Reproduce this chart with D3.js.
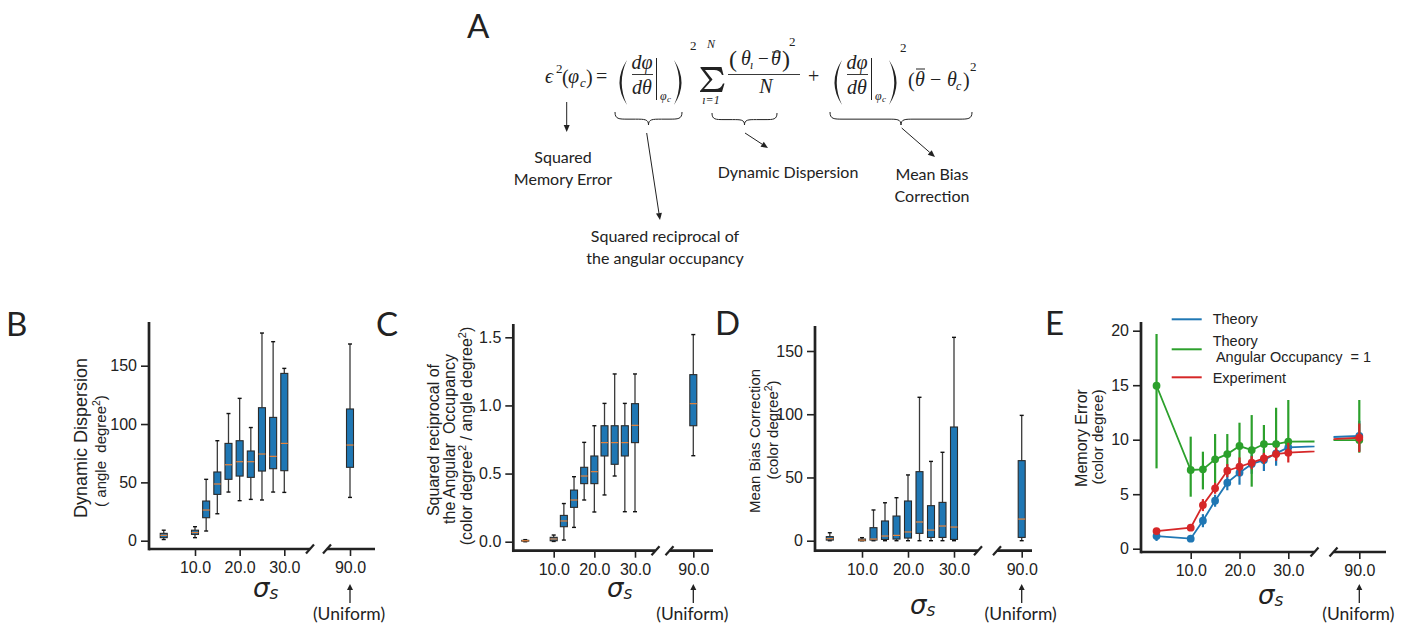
<!DOCTYPE html>
<html><head><meta charset="utf-8">
<script src="https://cdn.jsdelivr.net/npm/d3@7"></script>
<style>
html,body{margin:0;padding:0;background:#fff;}
svg{display:block;}
text{white-space:pre;}
</style></head>
<body>
<svg id="fig" width="1403" height="626"></svg>
<script>
// ================= DATA =================
const sigmaLevels = [3, 10, 12.5, 15, 17.5, 20, 22.5, 25, 27.5, 30, 90];
const xTickLeft = [10, 20, 30];
const xTickRight = [90];

// B: Dynamic dispersion (box stats)
const ddLow  = [1, 2.6, 8.3, 23.1, 41.7, 34.3, 35.4, 34.9, 41.7, 41.4, 37.1];
const ddQ1   = [2.6, 5.4, 19.7, 39.7, 52.6, 55.4, 54.3, 59.7, 61.7, 60, 62.9];
const ddMed  = [4.6, 7, 26.3, 48.6, 65.1, 67.7, 67.7, 74.3, 72.3, 83.4, 82];
const ddQ3   = [6.3, 9, 34, 58.9, 83.4, 85.7, 76.9, 114, 105.7, 143.4, 112.9];
const ddHigh = [9, 12, 52.6, 85.7, 109, 122, 97, 178, 170.6, 147.7, 168.6];
const ddTicks = [0, 50, 100, 150];

// C: Squared reciprocal of angular occupancy
const aoLow  = [0, 0.002, 0.012, 0.105, 0.306, 0.218, 0.343, 0.482, 0.22, 0.22, 0.631];
const aoQ1   = [0.005, 0.007, 0.11, 0.252, 0.426, 0.426, 0.629, 0.568, 0.629, 0.727, 0.851];
const aoMed  = [0.007, 0.02, 0.152, 0.306, 0.482, 0.514, 0.727, 0.727, 0.727, 0.854, 1.013];
const aoQ3   = [0.01, 0.032, 0.193, 0.379, 0.546, 0.629, 0.851, 0.851, 0.851, 1.013, 1.226];
const aoHigh = [0.015, 0.049, 0.28, 0.477, 0.729, 0.851, 1.015, 1.231, 1.015, 1.231, 1.52];
const aoTicks = [0, 0.5, 1.0, 1.5];

// D: Mean bias correction
const mbLow  = [0, 0, 0, 0, 0, 0, 0, 0, 0, 0, 0];
const mbQ1   = [0.5, 0, 0.5, 1, 1.3, 2.1, 5.8, 2.6, 2.6, 1, 2.6];
const mbMed  = [1.6, 0.5, 1.3, 3.7, 4.2, 6.9, 14.8, 8.4, 11.6, 10.8, 17.1];
const mbQ3   = [3.2, 1.3, 10.3, 15.6, 19.5, 31.4, 54.6, 27.7, 30.3, 89.9, 63.3];
const mbHigh = [6.3, 2.4, 24.3, 30, 34, 52, 113.4, 62.7, 69.9, 160.8, 99.1];
const mbTicks = [0, 50, 100, 150];

// E: Memory error
const theoryVal = [1.16, 0.92, 2.57, 4.4, 6.06, 6.97, 7.77, 8.13, 8.75, 9.3, 10.34];
const theoryErr = [0.45, 0.1, 0.6, 0.55, 0.7, 1.1, 0.9, 1.0, 1.15, 0.5, 1.4];
const aoOneVal  = [14.95, 7.22, 7.28, 8.2, 8.68, 9.42, 9.05, 9.6, 9.6, 9.82, 9.97];
const aoOneLow  = [7.37, 4.77, 5.44, 5.99, 6.76, 7.22, 5.69, 7.8, 8.2, 8.6, 8.8];
const aoOneHigh = [19.7, 10.28, 8.9, 10.52, 10.52, 11.56, 12.26, 11.35, 12.94, 13.64, 13.64];
const expVal    = [1.62, 1.93, 4.0, 5.54, 7.16, 7.52, 7.89, 8.29, 8.68, 8.81, 10.18];
const expErr    = [0.2, 0.2, 0.55, 0.5, 0.6, 0.85, 0.6, 0.5, 0.6, 0.9, 1.3];
const meTicks = [0, 5, 10, 15, 20];
const legendLabels = ["Theory", "Theory", " Angular Occupancy  = 1", "Experiment"];

// ================= DRAWING =================
const svg = d3.select("#fig");
svg.append("rect").attr("width",1403).attr("height",626).attr("fill","#fff");
const INK = "#222";
const SANS = "Liberation Sans, Arial, sans-serif";
const HUM = "Lato, Open Sans, sans-serif";
const SERIF = "Liberation Serif, DejaVu Serif, serif";

function txt(g, x, y, s, o = {}) {
  return g.append("text").attr("x", x).attr("y", y).text(s)
    .attr("font-family", o.ff || SANS).attr("font-size", o.fs || 16)
    .attr("font-style", o.it ? "italic" : "normal")
    .attr("text-anchor", o.anchor || "start").attr("fill", o.fill || INK);
}
function vtxt(g, x, y, s, fs, ff) {
  return g.append("text").attr("transform", `translate(${x},${y}) rotate(-90)`)
    .attr("text-anchor", "middle").attr("font-family", ff || SANS)
    .attr("font-size", fs).attr("fill", INK).text(s);
}
function arrow(g, x1, y1, x2, y2, w = 1, hl = 7, hw = 3) {
  const a = Math.atan2(y2 - y1, x2 - x1);
  const bx = x2 - hl * Math.cos(a), by = y2 - hl * Math.sin(a);
  g.append("line").attr("x1", x1).attr("y1", y1).attr("x2", bx).attr("y2", by)
    .attr("stroke", INK).attr("stroke-width", w);
  const px = -Math.sin(a) * hw, py = Math.cos(a) * hw;
  g.append("path").attr("d", `M${x2},${y2}L${bx + px},${by + py}L${bx - px},${by - py}Z`).attr("fill", INK);
}

function makePanel(p) {
  const g = svg.append("g");
  const y = d3.scaleLinear().domain(p.yDomain).range(p.yRange);
  const xL = d3.scaleLinear().domain([10, 30]).range(p.xLR);
  const slope = (p.xLR[1] - p.xLR[0]) / 20;
  const xR = d3.scaleLinear().domain([80, 100]).range([p.ux - 10 * slope, p.ux + 10 * slope]);
  const xOf = (s) => s > 50 ? xR(s) : xL(s);

  const ya = g.append("g").attr("transform", `translate(${p.axisX},0)`)
    .call(d3.axisLeft(y).tickValues(p.yTicks).tickFormat(p.yFmt).tickSize(8).tickPadding(4));
  const xa = g.append("g").attr("transform", `translate(0,${p.axisY})`)
    .call(d3.axisBottom(xL).tickValues(xTickLeft).tickFormat(d3.format(".1f")).tickSize(7).tickPadding(6));
  const xb = g.append("g").attr("transform", `translate(0,${p.axisY})`)
    .call(d3.axisBottom(xR).tickValues(xTickRight).tickFormat(d3.format(".1f")).tickSize(7).tickPadding(6));
  [ya, xa, xb].forEach(a => {
    a.select(".domain").remove();
    a.selectAll(".tick line").attr("stroke", INK).attr("stroke-width", 1.6);
    a.selectAll(".tick text").attr("font-family", SANS).attr("font-size", 16).attr("fill", INK);
  });
  const ax = g.append("g").attr("stroke", INK).attr("stroke-width", 2.7).attr("fill", "none");
  ax.append("line").attr("x1", p.axisX).attr("x2", p.axisX).attr("y1", p.axisTop).attr("y2", p.axisY + 1.35);
  ax.append("line").attr("x1", p.axisX).attr("x2", p.leftEnd).attr("y1", p.axisY).attr("y2", p.axisY);
  ax.append("line").attr("x1", p.rightStart).attr("x2", p.rightEnd).attr("y1", p.axisY).attr("y2", p.axisY);
  [p.leftEnd, p.rightStart].forEach(cx => {
    ax.append("line").attr("x1", cx - 4).attr("y1", p.axisY + 4.5).attr("x2", cx + 4).attr("y2", p.axisY - 4.5)
      .attr("stroke-width", 2.2);
  });
  // sigma_s label
  const sl = g.append("text").attr("x", p.sigX).attr("y", p.sigY).attr("font-family", "DejaVu Sans, sans-serif")
    .attr("font-style", "italic").attr("fill", INK);
  sl.append("tspan").attr("font-size", 26).text("σ");
  sl.append("tspan").attr("font-size", 17).attr("dy", 2).text("s");
  // uniform arrow + text
  arrow(g, p.ux, 603, p.ux, 584, 1.3, 6, 3);
  txt(g, p.ux - 1, 620, "(Uniform)", { ff: HUM, fs: 17.5, anchor: "middle" });
  // panel letter
  txt(g, p.letterX, p.letterY, p.letter, { ff: HUM, fs: 33 });
  return { g, y, xL, xR, xOf };
}

function drawBoxes(P, lo, q1, med, q3, hi) {
  const bw = 7, cw = 4;
  const gg = P.g.append("g");
  sigmaLevels.forEach((s, i) => {
    const cx = P.xOf(s);
    gg.append("line").attr("x1", cx).attr("x2", cx).attr("y1", P.y(q3[i])).attr("y2", P.y(hi[i]))
      .attr("stroke", "#3a3a3a").attr("stroke-width", 1.3);
    gg.append("line").attr("x1", cx).attr("x2", cx).attr("y1", P.y(q1[i])).attr("y2", P.y(lo[i]))
      .attr("stroke", "#3a3a3a").attr("stroke-width", 1.3);
    [hi[i], lo[i]].forEach(v => gg.append("line").attr("x1", cx - cw / 2).attr("x2", cx + cw / 2)
      .attr("y1", P.y(v)).attr("y2", P.y(v)).attr("stroke", "#111").attr("stroke-width", 1.4));
    const top = P.y(q3[i]), bot = P.y(q1[i]);
    gg.append("rect").attr("x", cx - bw / 2).attr("y", top).attr("width", bw).attr("height", Math.max(bot - top, 0.8))
      .attr("fill", "#1f77b4").attr("stroke", "#2a2a2a").attr("stroke-width", 1.1);
    gg.append("line").attr("x1", cx - bw / 2).attr("x2", cx + bw / 2).attr("y1", P.y(med[i])).attr("y2", P.y(med[i]))
      .attr("stroke", "#e8833a").attr("stroke-width", 1.2);
  });
}

// ---- Panel B ----
const PB = makePanel({ axisX: 149, axisTop: 322, axisY: 549, yDomain: [0, 150], yRange: [540.7, 365.7],
  yTicks: ddTicks, yFmt: d3.format("d"), xLR: [195, 284.3], ux: 350, leftEnd: 310, rightStart: 327, rightEnd: 375,
  sigX: 253, sigY: 597, letter: "B", letterX: 6, letterY: 336 });
drawBoxes(PB, ddLow, ddQ1, ddMed, ddQ3, ddHigh);
vtxt(PB.g, 87, 438, "Dynamic Dispersion", 18);
const bl2 = PB.g.append("text").attr("transform", "translate(106,451) rotate(-90)").attr("text-anchor", "middle")
  .attr("font-family", SANS).attr("font-size", 15).attr("fill", INK);
bl2.append("tspan").text("( angle  degree");
bl2.append("tspan").attr("font-size", 10.5).attr("dy", -6).text("2");
bl2.append("tspan").attr("dy", 6).text(")");

// ---- Panel C ----
const PC = makePanel({ axisX: 513.3, axisTop: 324, axisY: 550.7, yDomain: [0, 1.5], yRange: [541.7, 337.3],
  yTicks: aoTicks, yFmt: d3.format(".1f"), xLR: [553.7, 635], ux: 693.3, leftEnd: 655.5, rightStart: 669.5, rightEnd: 713,
  sigX: 607, sigY: 597, letter: "C", letterX: 376, letterY: 336 });
drawBoxes(PC, aoLow, aoQ1, aoMed, aoQ3, aoHigh);
vtxt(PC.g, 439, 440, "Squared reciprocal of", 16);
vtxt(PC.g, 455, 439, "the Angular  Occupancy", 16);
const cl3 = PC.g.append("text").attr("transform", "translate(472,436) rotate(-90)").attr("text-anchor", "middle")
  .attr("font-family", SANS).attr("font-size", 16).attr("fill", INK);
cl3.append("tspan").text("(color degree");
cl3.append("tspan").attr("font-size", 11).attr("dy", -6).text("2");
cl3.append("tspan").attr("dy", 6).text(" / angle degree");
cl3.append("tspan").attr("font-size", 11).attr("dy", -6).text("2");
cl3.append("tspan").attr("dy", 6).text(")");

// ---- Panel D ----
const PD = makePanel({ axisX: 815, axisTop: 326, axisY: 550.7, yDomain: [0, 150], yRange: [540.7, 351],
  yTicks: mbTicks, yFmt: d3.format("d"), xLR: [862, 954], ux: 1021.7, leftEnd: 978, rightStart: 997, rightEnd: 1032,
  sigX: 910, sigY: 614, letter: "D", letterX: 715, letterY: 335 });
drawBoxes(PD, mbLow, mbQ1, mbMed, mbQ3, mbHigh);
vtxt(PD.g, 760.3, 441, "Mean Bias Correction", 15);
const dl2 = PD.g.append("text").attr("transform", "translate(778.3,430) rotate(-90)").attr("text-anchor", "middle")
  .attr("font-family", SANS).attr("font-size", 15).attr("fill", INK);
dl2.append("tspan").text("(color degree");
dl2.append("tspan").attr("font-size", 10.5).attr("dy", -6).text("2");
dl2.append("tspan").attr("dy", 6).text(")");

// ---- Panel E ----
const PE = makePanel({ axisX: 1141, axisTop: 322, axisY: 552, yDomain: [0, 20], yRange: [548.7, 330.7],
  yTicks: meTicks, yFmt: d3.format("d"), xLR: [1190.7, 1288.3], ux: 1359.3, leftEnd: 1314.5, rightStart: 1333.5, rightEnd: 1386,
  sigX: 1258, sigY: 604, letter: "E", letterX: 1045, letterY: 335 });
vtxt(PE.g, 1087, 438, "Memory Error", 16);
vtxt(PE.g, 1102.7, 437, "(color degree)", 15.3);

const defs = svg.append("defs");
defs.append("clipPath").attr("id", "clipL").append("rect").attr("x", 0).attr("y", 0).attr("width", 1314.5).attr("height", 626);
defs.append("clipPath").attr("id", "clipR").append("rect").attr("x", 1333.5).attr("y", 0).attr("width", 100).attr("height", 626);

const series = [
  { vals: theoryVal, lo: theoryVal.map((v, i) => v - theoryErr[i]), hi: theoryVal.map((v, i) => v + theoryErr[i]), color: "#1f77b4" },
  { vals: aoOneVal, lo: aoOneLow, hi: aoOneHigh, color: "#2ca02c" },
  { vals: expVal, lo: expVal.map((v, i) => v - expErr[i]), hi: expVal.map((v, i) => v + expErr[i]), color: "#d62728" }
];
[["clipL", PE.xL], ["clipR", PE.xR]].forEach(([clip, xs]) => {
  const gc = PE.g.append("g").attr("clip-path", `url(#${clip})`);
  series.forEach(se => {
    const line = d3.line().x((d, i) => xs(sigmaLevels[i])).y(d => PE.y(d));
    gc.append("path").attr("d", line(se.vals)).attr("fill", "none").attr("stroke", se.color).attr("stroke-width", 1.8);
    sigmaLevels.forEach((s, i) => {
      gc.append("line").attr("x1", xs(s)).attr("x2", xs(s)).attr("y1", PE.y(se.lo[i])).attr("y2", PE.y(se.hi[i]))
        .attr("stroke", se.color).attr("stroke-width", 2.2);
    });
    gc.selectAll(null).data(se.vals).enter().append("circle")
      .attr("cx", (d, i) => xs(sigmaLevels[i])).attr("cy", d => PE.y(d)).attr("r", 3.9).attr("fill", se.color);
  });
});

// legend
const lg = PE.g.append("g");
const legRows = [
  { color: "#1f77b4", ly: 319.3, lines: [[legendLabels[0], 1212.7, 324.3]] },
  { color: "#2ca02c", ly: 349.3, lines: [[legendLabels[1], 1212.7, 346], [legendLabels[2], 1212.7, 361.5]] },
  { color: "#d62728", ly: 377.3, lines: [[legendLabels[3], 1212.7, 382.6]] }
];
legRows.forEach(r => {
  lg.append("line").attr("x1", 1171.7).attr("x2", 1201.7).attr("y1", r.ly).attr("y2", r.ly)
    .attr("stroke", r.color).attr("stroke-width", 2);
  r.lines.forEach(([s, x, y]) => txt(lg, x, y, s, { fs: 14.5 }));
});

// ================= PANEL A (equation) =================
const A = svg.append("g");
txt(A, 467, 38, "A", { ff: HUM, fs: 33 });
const M = (x, y, s, fs = 19, it = true, anchor = "start") => txt(A, x, y, s, { ff: SERIF, fs, it, anchor });
function bigParen(x, left) {
  const d = left
    ? `M${x + 12},60 Q${x - 3},82.5 ${x + 12},105 Q${x + 1.5},82.5 ${x + 12},60Z`
    : `M${x},60 Q${x + 15},82.5 ${x},105 Q${x + 10.5},82.5 ${x},60Z`;
  A.append("path").attr("d", d).attr("fill", INK);
}
function hline(x1, x2, y, w = 0.9) {
  A.append("line").attr("x1", x1).attr("x2", x2).attr("y1", y).attr("y2", y).attr("stroke", INK).attr("stroke-width", w);
}
function vline(x, y1, y2, w = 1) {
  A.append("line").attr("x1", x).attr("x2", x).attr("y1", y1).attr("y2", y2).attr("stroke", INK).attr("stroke-width", w);
}
// lhs
M(545, 83, "ϵ", 20);
M(556, 73, "2", 13, false);
M(562, 84, "(", 20, false);
M(568, 83, "φ", 20);
M(580, 87, "c", 13);
M(586, 84, ")", 20, false);
M(596, 83, "=", 20, false);
function derivGroup(x0) {
  bigParen(x0, true);
  M(x0 + 27, 69, "dφ", 20, true, "middle");
  hline(x0 + 17, x0 + 38, 74.5);
  M(x0 + 27, 94, "dθ", 20, true, "middle");
  vline(x0 + 41.5, 58, 100);
  M(x0 + 45, 100, "φ", 12);
  M(x0 + 52, 102, "c", 9);
  bigParen(x0 + 59, false);
}
derivGroup(615);
M(690, 50, "2", 13, false);
// summation sign drawn as a shape
A.append("path").attr("fill", INK).attr("d",
  "M700.5,67 L721.5,67 L723.5,75 L722,75 Q720,70 714,70 L705,70 L712.5,79.5 L704,89 L715,89 Q721,89 723,83.5 L724.5,83.5 L722,92 L700,92 L700,91 L709.5,80 L700.5,68 Z");
M(711, 48, "N", 12, true, "middle");
M(711, 104, "ı=1", 12, true, "middle");
M(729, 67, "(", 24, false);
M(741, 65, "θ", 20);
M(750, 69, "ı", 12);
M(758, 65, "−", 19, false);
M(771, 65, "θ", 20);
hline(772, 781, 52, 1);
M(782, 67, ")", 24, false);
M(789, 46, "2", 13, false);
hline(728, 800, 74.5);
M(766, 93, "N", 20, true, "middle");
M(808, 83, "+", 20, false);
derivGroup(830);
M(900, 52, "2", 13, false);
M(908, 87, "(", 20, false);
M(915, 86, "θ", 20);
hline(916, 925, 69, 1);
M(930, 86, "−", 20, false);
M(947, 86, "θ", 20);
M(956, 90, "c", 12);
M(963, 87, ")", 20, false);
M(970, 71, "2", 13, false);

function hbrace(x1, x2, y0, h) {
  const xm = (x1 + x2) / 2, ym = y0 + h * 0.55, r = Math.min(h, (x2 - x1) / 4);
  const d = `M${x1},${y0} C${x1},${ym} ${x1 + r * 0.3},${ym} ${x1 + r},${ym} L${xm - r},${ym} C${xm - r * 0.3},${ym} ${xm},${ym} ${xm},${y0 + h}` +
    ` C${xm},${ym} ${xm + r * 0.3},${ym} ${xm + r},${ym} L${x2 - r},${ym} C${x2 - r * 0.3},${ym} ${x2},${ym} ${x2},${y0}`;
  A.append("path").attr("d", d).attr("fill", "none").attr("stroke", INK).attr("stroke-width", 1);
}
hbrace(615, 682, 112, 13);
hbrace(712, 777, 113, 12);
hbrace(830, 972, 112, 13);

arrow(A, 566.7, 102, 566.7, 132, 1, 7, 3);
arrow(A, 646.7, 133, 660, 220, 1, 7, 3);
arrow(A, 745, 133, 768, 148, 1, 7, 3);
arrow(A, 901.7, 128, 935, 157, 1, 7, 3);

const T = (x, y, s) => txt(A, x, y, s, { ff: HUM, fs: 16, anchor: "middle" });
T(563, 163, "Squared");
T(563, 185, "Memory Error");
T(665, 242, "Squared reciprocal of");
T(665, 264, "the angular occupancy");
T(788, 178, "Dynamic Dispersion");
T(932, 180, "Mean Bias");
T(932, 202, "Correction");
</script>
</body></html>
